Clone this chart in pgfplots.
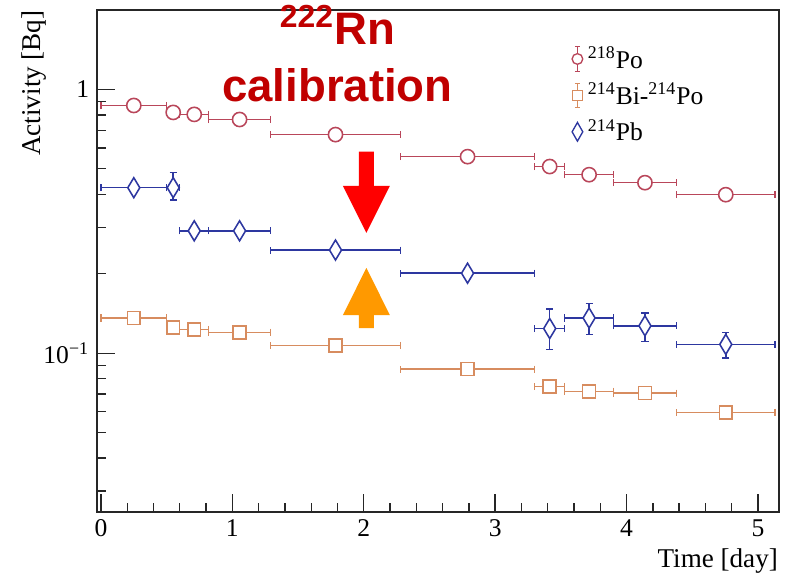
\documentclass[border=0pt]{standalone}
\usepackage{fontspec}
\setmainfont{Liberation Serif}
\newfontfamily\annofont{Liberation Sans}
\usepackage{pgfplots}
\usepackage{pgfplotstable}
\pgfplotsset{compat=1.18}

\definecolor{poC}{RGB}{185,70,90}
\definecolor{biC}{RGB}{215,140,95}
\definecolor{pbC}{RGB}{45,55,160}
\definecolor{annoC}{RGB}{192,0,0}
\definecolor{arrOr}{RGB}{255,153,0}

% x = bin centre, ex = half bin width, eyp/eym = y errors
\pgfplotstableread{
x      y      ex     eyp    eym
0.25   0.869  0.25   0      0
0.55   0.818  0.05   0      0
0.71   0.804  0.11   0      0
1.055  0.769  0.235  0      0
1.785  0.674  0.495  0      0
2.79   0.556  0.51   0      0
3.415  0.510  0.115  0      0
3.715  0.475  0.185  0      0
4.14   0.443  0.24   0      0
4.755  0.399  0.375  0      0
}\po
\pgfplotstableread{
x      y      ex     eyp    eym
0.25   0.136  0.25   0      0
0.55   0.125  0.05   0      0
0.71   0.123  0.11   0      0
1.055  0.120  0.235  0      0
1.785  0.107  0.495  0      0
2.79   0.087  0.51   0      0
3.415  0.0749 0.115  0      0
3.715  0.0717 0.185  0      0
4.14   0.0706 0.24   0      0
4.755  0.0597 0.375  0      0
}\bi
\pgfplotstableread{
x      y      ex     eyp    eym
0.25   0.424  0.25   0      0
0.55   0.424  0.05   0.059  0.043
0.71   0.291  0.11   0.005  0.005
1.055  0.291  0.235  0      0
1.785  0.246  0.495  0      0
2.79   0.201  0.51   0      0
3.415  0.124  0.115  0.023  0.021
3.715  0.136  0.185  0.018  0.018
4.14   0.127  0.24   0.015  0.016
4.755  0.108  0.375  0.012  0.012
}\pb

\begin{document}
\begin{tikzpicture}
\useasboundingbox (-43.65pt,-28.35pt) rectangle (310.5pt,230.4pt);
\begin{axis}[
  at={(0,0)}, anchor=south west,
  scale only axis, width=306.9pt, height=225.9pt,
  xmin=-0.03, xmax=5.16,
  ymode=log, ymin=0.025, ymax=2.0,
  xtick={0,1,2,3,4,5}, minor x tick num=4,
  ytick={0.1,1}, yticklabels={10\textsuperscript{−1},1},
  minor ytick={0.03,0.04,0.05,0.06,0.07,0.08,0.09,0.2,0.3,0.4,0.5,0.6,0.7,0.8,0.9,2},
  tick pos=left, tick align=inside,
  major tick length=8pt, minor tick length=4pt,
  axis line style={line width=0.6pt, black!85},
  every tick/.style={black!85, line width=0.6pt},
  ticklabel style={font=\fontsize{11.5}{13}\selectfont},
  /pgf/number format/assume math mode=true,
  xlabel={Time [day]}, ylabel={Activity [Bq]},
  label style={font=\fontsize{12.2}{14}\selectfont},
  xlabel style={at={(axis description cs:0.999,-0.110)}, anchor=base east, inner sep=0pt},
  ylabel style={at={(axis description cs:-0.093,1)}, anchor=east, inner sep=0pt},
  clip=false,
  legend cell align=left,
  legend style={draw=none, fill=none, at={(axis description cs:0.695,0.937)}, anchor=north west,
    font=\fontsize{11.5}{13}\selectfont, row sep=1.2pt, inner sep=0pt},
  error bars/error bar style={line width=0.7pt},
  error bars/error mark options={rotate=90, mark size=1.6pt, line width=0.6pt},
]
\addplot[only marks, poC, mark=*, mark size=3.2pt,
  mark options={fill=white, draw=poC, line width=0.7pt},
  error bars/.cd, x dir=both, x explicit, y dir=both, y explicit,
  error bar style={poC},
  /pgfplots/legend image code/.code={
    \draw[poC, line width=0.6pt] (0pt,-5.5pt) -- (0pt,5.5pt);
    \draw[poC, line width=0.6pt] (-1.2pt,-5.5pt) -- (1.2pt,-5.5pt) (-1.2pt,5.5pt) -- (1.2pt,5.5pt);
    \draw[poC, fill=white, line width=0.6pt] (0pt,0pt) circle (2.4pt);
  }]
  table[x=x, y=y, x error=ex, y error plus=eyp, y error minus=eym] {\po};
\addlegendentry{\textsuperscript{218}Po}
\addplot[only marks, biC, mark=square*, mark size=2.9pt,
  mark options={fill=white, draw=biC, line width=0.7pt},
  error bars/.cd, x dir=both, x explicit, y dir=both, y explicit,
  error bar style={biC},
  /pgfplots/legend image code/.code={
    \draw[biC, line width=0.6pt] (0pt,-5.5pt) -- (0pt,5.5pt);
    \draw[biC, line width=0.6pt] (-1.2pt,-5.5pt) -- (1.2pt,-5.5pt) (-1.2pt,5.5pt) -- (1.2pt,5.5pt);
    \draw[biC, fill=white, line width=0.6pt] (-2.2pt,-2.2pt) rectangle (2.2pt,2.2pt);
  }]
  table[x=x, y=y, x error=ex, y error plus=eyp, y error minus=eym] {\bi};
\addlegendentry{\textsuperscript{214}Bi-\textsuperscript{214}Po}
\addplot[only marks, pbC, mark=diamond*, mark size=4.5pt,
  mark options={fill=white, draw=pbC, line width=0.7pt, xscale=0.8},
  error bars/.cd, x dir=both, x explicit, y dir=both, y explicit,
  error bar style={pbC},
  /pgfplots/legend image code/.code={
    \draw[pbC, fill=white, line width=0.6pt] (0pt,-4.2pt) -- (2.4pt,0pt) -- (0pt,4.2pt) -- (-2.4pt,0pt) -- cycle;
  }]
  table[x=x, y=y, x error=ex, y error plus=eyp, y error minus=eym] {\pb};
\addlegendentry{\textsuperscript{214}Pb}

% annotation arrows
\fill[red] (axis cs:1.963,0.581) -- (axis cs:2.077,0.581) -- (axis cs:2.077,0.431)
  -- (axis cs:2.199,0.431) -- (axis cs:2.02,0.286) -- (axis cs:1.841,0.431)
  -- (axis cs:1.963,0.431) -- cycle;
\fill[arrOr] (axis cs:1.963,0.1245) -- (axis cs:2.077,0.1245) -- (axis cs:2.077,0.1394)
  -- (axis cs:2.199,0.1394) -- (axis cs:2.02,0.2105) -- (axis cs:1.841,0.1394)
  -- (axis cs:1.963,0.1394) -- cycle;
\node[anchor=base, inner sep=0pt, text=annoC, font=\annofont\bfseries\fontsize{20.5}{22}\selectfont]
  at (axis cs:1.80,1.483) {\textsuperscript{222}Rn};
\node[anchor=base, inner sep=0pt, text=annoC, font=\annofont\bfseries\fontsize{20.5}{22}\selectfont]
  at (axis cs:1.80,0.9003) {calibration};
\end{axis}
\end{tikzpicture}
\end{document}
